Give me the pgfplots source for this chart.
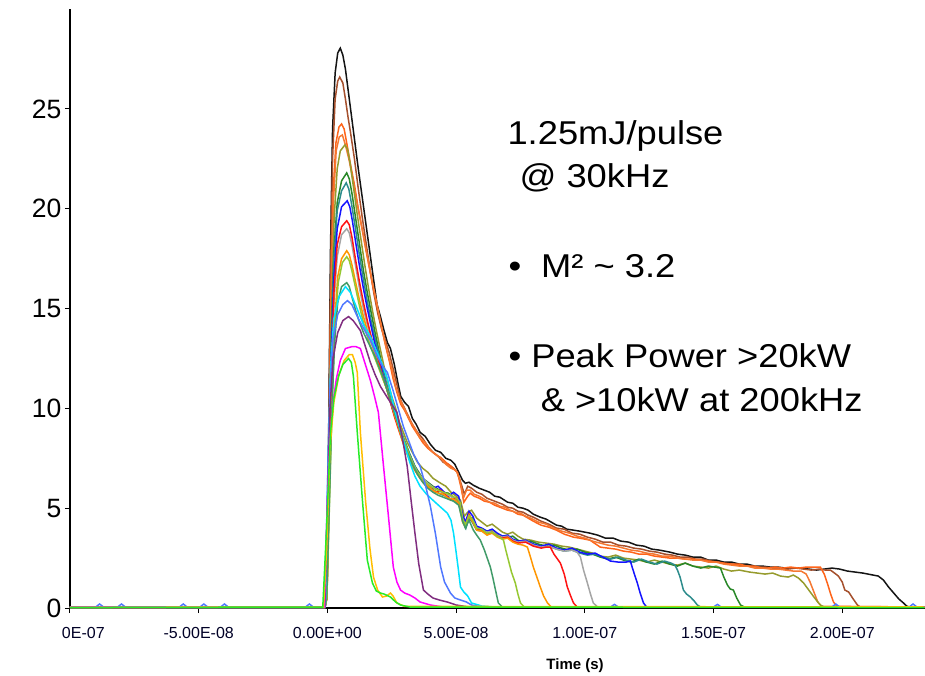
\documentclass[border=0pt]{standalone}
\usepackage{fontspec}
\setmainfont{Liberation Sans}
\newfontfamily\annfont[FakeStretch=1.1]{Liberation Sans}
\usepackage{pgfplots}
\pgfplotsset{compat=1.18}
\definecolor{cBlack}{RGB}{20,20,20}
\definecolor{cBrown}{RGB}{165,80,45}
\definecolor{cOrA}{RGB}{255,100,25}
\definecolor{cOrB}{RGB}{245,120,50}
\definecolor{cOlive}{RGB}{150,155,45}
\definecolor{cGreen}{RGB}{40,135,40}
\definecolor{cTeal}{RGB}{45,140,140}
\definecolor{cBlue}{RGB}{20,20,255}
\definecolor{cGray}{RGB}{165,165,165}
\definecolor{cRed}{RGB}{255,20,20}
\definecolor{cOrange}{RGB}{255,150,0}
\definecolor{cYG}{RGB}{150,200,50}
\definecolor{cSea}{RGB}{65,155,105}
\definecolor{cCyan}{RGB}{0,225,255}
\definecolor{cRoyal}{RGB}{80,120,255}
\definecolor{cPurple}{RGB}{128,45,128}
\definecolor{cMag}{RGB}{255,0,255}
\definecolor{cGold}{RGB}{255,190,0}
\definecolor{cLime}{RGB}{40,235,40}
\begin{document}
\begin{tikzpicture}
\useasboundingbox (-70pt,-68pt) rectangle (855pt,608pt);
\begin{axis}[
  at={(0,0)}, anchor=south west,
  scale only axis, width=854.6pt, height=598.8pt,
  xmin=-100, xmax=232, ymin=0, ymax=30,
  axis lines=left, axis line style={-, line width=2pt, black},
  xtick={-100,-50,0,50,100,150,200},
  xticklabels={{\makebox[0pt][l]{\hspace*{-8pt}0E-07}},-5.00E-08,0.00E+00,5.00E-08,1.00E-07,1.50E-07,2.00E-07},
  ytick={0,5,10,15,20,25},
  xtick pos=left, ytick pos=left,
  tick align=outside, major tick length=5pt,
  tick style={black, line width=1pt},
  xticklabel style={font=\fontsize{16}{18}\selectfont, text=black!85!blue, yshift=-11pt},
  yticklabel style={font=\fontsize{26.5}{30}\selectfont},
  /pgf/number format/assume math mode=true,
  xlabel={Time (s)},
  xlabel style={at={(axis description cs:0.591,-0.1035)}, anchor=base, font=\bfseries\fontsize{15}{17}\selectfont},
  every axis plot/.append style={line width=1.5pt, mark=none},
]
% black
\addplot[cBlack] coordinates {(-100,0.03) (-1,0.03) (-0.3,0.5) (0.5,9) (1.2,18) (2,24) (3,26.8) (4,27.8) (5,28.05) (6,27.7) (7,27.0) (8,26) (9,25) (10.5,23.5) (12,22) (13.5,20.6) (15,19.2) (16.5,17.8) (18,16.4) (19.3,15.2) (20.6,14.6) (22,13.9) (23.3,13.3) (24.5,13.0) (26,12.2) (27.5,11.2) (28.5,10.6) (30,10.3) (31.5,10.1) (33,9.5) (34.5,9.2) (36,8.8) (38,8.6) (40,8.2) (42,7.9) (44,7.8) (46,7.5) (48,7.4) (49.5,7.2) (51,6.8) (52.5,6.4) (53.6,6.25) (55,6.3) (56.7,6.15) (59,6.0) (61,5.9) (63,5.8) (65,5.6) (67,5.55) (70,5.3) (72,5.25) (74,5.05) (76,5.0) (78,4.9) (80,4.7) (82.7,4.55) (85,4.45) (87,4.3) (89,4.15) (91,4.1) (93,3.95) (95.6,3.9) (98,3.85) (100,3.8) (102,3.75) (105,3.65) (108,3.5) (111,3.5) (114,3.35) (117,3.3) (120,3.15) (123,3.1) (126,2.95) (129,2.9) (133,2.8) (136,2.7) (139,2.65) (142,2.55) (145,2.55) (148,2.4) (151,2.4) (154,2.3) (157,2.3) (160,2.2) (163,2.2) (166,2.1) (169,2.1) (172,2.05) (175,2.05) (178,2.0) (181,2.0) (184,2.0) (187,1.95) (190,1.9) (193,1.95) (196,2.0) (199,1.95) (202,1.85) (205,1.8) (208,1.75) (212,1.65) (214,1.6) (216,1.4) (218,1.05) (220,0.75) (222,0.45) (223.8,0.25) (225,0.1) (226,0.05) (232,0.05)};
% brown
\addplot[cBrown] coordinates {(-100,0.03) (-1,0.03) (-0.3,0.5) (0.5,8.5) (1.2,16.5) (2,22.5) (3,25.5) (4,26.4) (4.8,26.6) (6,26.3) (7,25.5) (8,24.6) (9,23.8) (10.5,22.5) (12,21) (13.5,19.6) (15,18.3) (16.5,17.0) (18,15.8) (19.5,14.8) (21,14.0) (22.5,13.4) (24,12.8) (25.5,12.0) (27,11.2) (28.5,10.4) (30,10.0) (31.5,9.6) (33,9.2) (35,8.8) (37,8.5) (39,8.1) (41,7.8) (43,7.6) (45,7.3) (47,7.2) (49,7.0) (50.5,6.8) (52,6.2) (53.2,5.7) (54.5,6.1) (56,6.0) (58,5.8) (60,5.7) (62,5.5) (64,5.4) (66,5.3) (68,5.2) (70,5.05) (72,5.0) (74,4.85) (76,4.8) (78,4.65) (80,4.55) (83,4.35) (86,4.2) (89,4.0) (92,3.95) (95,3.75) (98,3.7) (101,3.55) (104,3.45) (107,3.3) (110,3.3) (113,3.15) (116,3.1) (119,3.0) (122,2.95) (125,2.85) (128,2.8) (131,2.7) (134,2.65) (137,2.55) (140,2.55) (143,2.45) (146,2.45) (149,2.35) (152,2.3) (155,2.2) (158,2.2) (161,2.1) (164,2.1) (167,2.05) (170,2.05) (173,2.0) (176,1.95) (179,1.95) (182,2.0) (185,1.95) (188,1.9) (191,1.95) (193.5,1.9) (195.4,1.9) (197,1.75) (198.5,1.6) (200,1.3) (201,0.9) (202.5,0.8) (204,0.5) (205.9,0.15) (207,0.05) (232,0.05)};
% orange A
\addplot[cOrA] coordinates {(-100,0.03) (-1,0.03) (-0.3,0.5) (0.6,8) (1.4,16) (2.3,21) (3.3,23.3) (4.5,24.1) (5.5,24.25) (6.5,24.0) (7.5,23.3) (9,22.2) (10.5,21.2) (12,20.0) (13.5,19.0) (15,17.9) (16.5,16.9) (18,15.9) (19.5,15.0) (21,14.1) (22.5,13.2) (24,12.4) (25.5,11.5) (27,10.8) (28.5,10.2) (30,9.9) (31.5,9.5) (33,9.1) (35,8.7) (37,8.3) (39,8.0) (41,7.8) (43,7.6) (44,7.55) (46,7.3) (48,7.1) (50.5,6.8) (52,6.0) (53,5.3) (54.5,5.6) (55.5,5.75) (57,5.6) (59,5.5) (61,5.35) (63,5.3) (65,5.15) (67,5.05) (70,4.9) (72,4.85) (74,4.7) (76,4.65) (78,4.5) (80,4.35) (83,4.15) (86,4.05) (89,3.9) (92,3.7) (95.6,3.55) (98,3.5) (102,3.4) (106,3.05) (109,3.0) (112,2.95) (115,2.85) (118,2.8) (121,2.7) (124,2.7) (127,2.6) (130,2.55) (133,2.5) (136,2.5) (139,2.45) (142,2.45) (145,2.4) (148,2.35) (151,2.3) (154,2.25) (157,2.2) (160,2.2) (163,2.1) (166,2.1) (169,2.0) (171,2.0) (174,2.05) (177,2.0) (180,2.05) (183,2.0) (186,2.05) (189,2.05) (191.5,2.05) (193,1.7) (194.2,1.25) (195.5,0.7) (196.6,0.3) (198,0.08) (232,0.05)};
% orange B
\addplot[cOrB] coordinates {(-100,0.03) (-1,0.03) (-0.2,0.5) (0.7,7.5) (1.5,15) (2.4,20.5) (3.4,22.9) (4.6,23.6) (5.8,23.7) (7,23.2) (8.5,22.4) (10,21.4) (11.5,20.3) (13,19.3) (14.5,18.3) (16,17.3) (17.5,16.3) (19,15.4) (20.5,14.4) (22,13.5) (23.5,12.7) (25,12.0) (26.5,11.1) (28,10.5) (29.5,10.1) (31,9.7) (32.5,9.3) (34,9.0) (36,8.5) (38,8.3) (40,7.9) (42,7.7) (44,7.5) (46,7.2) (48,7.0) (50,6.9) (51.5,6.4) (52.8,5.5) (54,5.9) (55.5,5.9) (57,5.7) (59,5.6) (61,5.45) (63,5.3) (65,5.25) (67,5.1) (69,5.05) (71,4.9) (73,4.8) (75,4.75) (77,4.6) (79,4.5) (82,4.3) (85,4.2) (88,4.0) (91,3.85) (94,3.75) (97,3.6) (100,3.5) (103,3.35) (106,3.25) (109,3.15) (112,3.1) (115,3.0) (118,2.9) (121,2.85) (124,2.75) (127,2.7) (130,2.6) (133,2.6) (136,2.5) (139,2.45) (142,2.4) (145,2.4) (148,2.3) (151,2.3) (154,2.2) (157,2.15) (160,2.1) (163,2.1) (166,2.0) (169,2.0) (172,1.95) (175,1.95) (178,1.9) (181,1.85) (184,1.85) (186,1.7) (187.5,1.3) (189,0.8) (190.5,0.3) (192,0.08) (232,0.05)};
% olive
\addplot[cOlive] coordinates {(-100,0.03) (-1,0.03) (-0.2,0.5) (0.7,7.5) (1.6,14.5) (2.6,19.5) (3.8,22) (5,22.9) (6.8,23.2) (7.8,23.0) (8.8,22.3) (10,21.2) (11.5,19.8) (13,18.5) (14.5,17.2) (16,16.0) (17.5,14.9) (19,13.9) (20.5,13.0) (22,12.1) (23.5,11.3) (25,10.6) (26.5,10.0) (28,9.3) (29.5,8.8) (31,8.3) (33,7.8) (35,7.3) (37,7.0) (39,6.8) (41,6.5) (44,6.25) (46,6.1) (48,5.8) (50,5.6) (51.7,5.4) (53.2,4.6) (54.5,4.8) (56,4.9) (58,4.5) (60,4.3) (62,4.1) (64,4.2) (66,4.0) (68,3.8) (70,3.7) (72,3.8) (74,3.6) (76,3.45) (79,3.4) (82,3.3) (85,3.25) (88,3.2) (91,3.1) (94,3.05) (97,2.95) (100,2.85) (103,2.75) (106,2.6) (109,2.55) (112,2.65) (115,2.5) (118,2.45) (121,2.4) (124,2.3) (127,2.4) (130,2.3) (133,2.2) (136,2.15) (139,2.25) (142,2.1) (145,2.05) (148,2.0) (151,2.1) (154,1.95) (157,1.85) (160,1.9) (164,1.8) (167,1.75) (170,1.7) (173,1.75) (176,1.6) (179,1.55) (181,1.65) (183,1.5) (185,1.25) (187,0.9) (189,0.55) (190.5,0.3) (191.5,0.15) (193,0.05) (232,0.05)};
% green
\addplot[cGreen] coordinates {(-100,0.03) (-1,0.03) (-0.3,0.5) (0.6,7) (1.5,13.5) (2.5,17.8) (3.8,20.3) (5.5,21.4) (7.5,21.8) (8.5,21.5) (9.5,20.8) (11,19.5) (12.5,18.2) (14,16.9) (15.5,15.8) (17,14.8) (18.5,13.8) (20,12.9) (21.5,12.0) (23,11.2) (24.5,10.5) (26,9.9) (27.5,9.3) (29,8.7) (30.5,8.2) (32,7.7) (34,7.1) (36,6.7) (37,6.5) (39,6.3) (41,6.1) (43,5.95) (45,5.8) (47,5.75) (49,5.55) (51,5.35) (52.5,4.5) (53.6,4.1) (55,4.55) (56.5,4.5) (58,4.0) (60,3.95) (62,3.85) (64,3.9) (66,3.7) (68,3.6) (70,3.55) (72,3.6) (74,3.4) (76,3.3) (79,3.35) (82,3.2) (85,3.1) (88,3.15) (91,3.0) (94,2.9) (97,2.95) (100,2.8) (103,2.7) (106,2.55) (109,2.45) (112,2.55) (115,2.4) (118,2.3) (121,2.45) (124,2.3) (127,2.2) (130,2.35) (133,2.2) (136,2.1) (139,2.25) (142,2.1) (145,2.0) (148,2.1) (150.5,2.05) (152.7,2.0) (154,1.55) (155.4,1.15) (156.5,0.95) (157.7,0.9) (159,0.5) (160.5,0.15) (162,0.05) (232,0.05)};
% teal
\addplot[cTeal] coordinates {(-100,0.03) (-1,0.03) (-0.3,0.5) (0.6,7) (1.5,13) (2.5,17.5) (3.8,19.9) (5.5,20.9) (7.3,21.3) (8.3,21.0) (9.3,20.3) (10.8,19.1) (12.3,17.8) (13.8,16.6) (15.3,15.5) (16.8,14.5) (18.3,13.6) (19.8,12.8) (21.3,12.0) (22.8,11.3) (24.3,10.6) (25.8,9.9) (27.5,9.3) (29,8.7) (30.5,8.2) (32,7.7) (34,7.1) (36,6.6) (38,6.3) (40,6.0) (42,5.85) (44,5.7) (46,5.6) (48,5.45) (50,5.3) (51.7,5.1) (52.8,4.3) (53.8,4.0) (55,4.5) (56.3,4.3) (58,3.9) (60,3.85) (62,3.75) (64,3.8) (66,3.6) (68,3.5) (70,3.55) (72,3.4) (74,3.3) (77,3.35) (80,3.2) (83,3.05) (86,3.1) (89,2.95) (92,2.85) (95,2.9) (98,2.75) (101,2.65) (104,2.7) (107,2.55) (110,2.45) (113,2.55) (116,2.4) (119,2.3) (122,2.45) (125,2.3) (128,2.2) (131,2.35) (133.5,2.25) (135,2.15) (136,1.9) (137,1.55) (138.3,0.9) (139.5,0.7) (141,0.55) (142.5,0.35) (143.7,0.15) (145,0.05) (232,0.05)};
% blue
\addplot[cBlue] coordinates {(-100,0.03) (-1,0.03) (-0.3,0.5) (0.6,6.5) (1.5,12.5) (2.5,16.5) (3.8,19.0) (5.5,20.1) (7.7,20.4) (8.7,20.1) (9.7,19.4) (11,18.3) (12.5,17.1) (14,16.0) (15.5,15.0) (17,14.1) (18.5,13.2) (20,12.5) (21.5,11.7) (23.3,10.9) (25,10.1) (27,9.3) (29.5,8.4) (31.5,7.7) (33.4,7.1) (35,6.8) (37,6.4) (39,6.2) (41,6.0) (43,6.1) (45,5.85) (47,5.6) (49,5.8) (51,5.6) (52.5,4.7) (53.6,4.3) (55,4.85) (56.5,4.6) (58,4.1) (60,4.0) (62,3.85) (64,3.95) (66,3.75) (68,3.6) (70,3.65) (72,3.45) (74,3.35) (77,3.4) (80,3.2) (83,3.1) (86,3.2) (89,3.0) (92,2.9) (95,3.0) (98,2.8) (101,2.7) (104,2.75) (107,2.55) (110,2.35) (113,2.3) (116,2.3) (117.7,2.35) (118.5,2.0) (119.5,1.6) (120.4,1.25) (121.5,0.75) (122.8,0.25) (124,0.05) (232,0.05)};
% gray
\addplot[cGray] coordinates {(-100,0.03) (-1,0.03) (-0.2,0.5) (0.7,6) (1.6,11.5) (2.6,15.4) (3.8,17.6) (5.5,18.7) (7.5,19.0) (8.5,18.8) (9.5,18.2) (11,17.1) (12.5,16.0) (14,15.0) (15.5,14.2) (17,13.5) (18.5,12.8) (20,12.2) (21.5,11.6) (23,11.0) (24.5,10.3) (26,9.7) (28,8.9) (30,8.2) (32,7.6) (33,7.3) (35,6.8) (37,6.5) (39,6.25) (41,6.05) (43,5.9) (45,5.75) (47,5.65) (49,5.5) (51,5.3) (52.5,4.4) (53.6,4.2) (55,4.6) (56.5,4.4) (58,4.0) (60,3.9) (62,3.8) (64,3.85) (66,3.65) (68,3.55) (70,3.6) (72,3.4) (74,3.3) (77,3.35) (80,3.15) (83,3.05) (86,3.1) (89,2.95) (92,2.85) (95,2.9) (97,2.8) (98.3,2.55) (99.5,1.9) (101,1.25) (102.2,0.7) (103.3,0.25) (105,0.05) (232,0.05)};
% red
\addplot[cRed] coordinates {(-100,0.03) (-1,0.03) (-0.2,0.5) (0.7,6.2) (1.6,12) (2.6,16) (3.8,18.2) (5.5,19.1) (7.5,19.4) (8.5,19.2) (9.5,18.6) (11,17.4) (12.5,16.3) (14,15.3) (15.5,14.4) (17,13.6) (18.5,12.9) (20,12.3) (21.5,11.6) (23,11.0) (24.5,10.3) (26,9.6) (28,8.8) (30,8.1) (32,7.4) (34,6.9) (36,6.5) (38,6.2) (40,6.0) (42,5.8) (44,5.9) (46,5.65) (48,5.4) (50,5.5) (51.5,5.2) (52.5,4.4) (53.6,4.1) (55,4.7) (56.5,4.35) (58,3.95) (60,3.9) (62,3.7) (64,3.8) (66,3.6) (68,3.5) (70,3.55) (72,3.35) (74,3.25) (77,3.3) (80,3.1) (83,3.0) (85,3.05) (86.6,3.05) (88,2.7) (90.5,2.25) (92,1.7) (93.2,1.05) (94.5,0.6) (95.6,0.25) (97,0.05) (232,0.05)};
% orange
\addplot[cOrange] coordinates {(-100,0.03) (-1,0.03) (-0.2,0.5) (0.7,5.5) (1.7,10.5) (2.8,14.3) (4,16.6) (5.5,17.5) (7.5,17.9) (8.5,17.7) (9.5,17.2) (11,16.3) (12.5,15.4) (14,14.6) (15.5,13.9) (17,13.3) (18.5,12.7) (20,12.1) (21.5,11.5) (23,11.0) (24.5,10.4) (26,9.7) (27.5,9.1) (29,8.4) (31,7.7) (33,7.1) (35,6.7) (37,6.35) (39,6.1) (41,5.9) (43,5.75) (45,5.7) (47,5.5) (49,5.45) (51,5.25) (52.5,4.3) (53.6,4.05) (55,4.6) (56.5,4.3) (58,3.9) (60,3.85) (62,3.65) (64,3.75) (66,3.55) (68,3.45) (70,3.5) (72,3.3) (74,3.2) (76,3.15) (77.7,3.05) (79,2.5) (80,2.05) (81.5,1.5) (82.7,1.05) (84,0.6) (85.5,0.25) (87,0.05) (232,0.05)};
% yellow-green
\addplot[cYG] coordinates {(-100,0.03) (-1,0.03) (-0.2,0.5) (0.8,5.2) (1.8,10.2) (2.9,14) (4.2,16.3) (5.8,17.3) (7.5,17.6) (8.5,17.4) (9.5,16.9) (11,16.0) (12.5,15.1) (14,14.3) (15.5,13.6) (17,13.0) (18.5,12.5) (20,12.0) (21.5,11.5) (23,11.0) (24.5,10.4) (26,9.8) (28,9.0) (30,8.3) (32,7.6) (34,7.0) (36,6.6) (38,6.3) (40,6.1) (42,5.95) (44,5.85) (46,5.75) (48,5.65) (50,5.5) (51.5,5.3) (52.5,4.5) (53.6,4.15) (55,4.65) (56.5,4.4) (58,4.0) (60,3.95) (62,3.75) (64,3.8) (66,3.6) (67.5,3.5) (68.4,3.4) (69.3,2.9) (70.3,2.4) (71.5,1.8) (73,1.25) (74,0.7) (75,0.25) (76.5,0.05) (232,0.05)};
% sea green
\addplot[cSea] coordinates {(-100,0.03) (-1,0.03) (-0.3,0.5) (0.7,5) (1.7,9.8) (2.8,13.3) (4,15.3) (5.5,16.1) (7.5,16.3) (8.5,16.1) (9.5,15.6) (11,14.9) (12.5,14.3) (14,13.8) (15.5,13.4) (17,13.0) (18.5,12.6) (20,12.1) (21.5,11.6) (23,11.0) (24.5,10.4) (26,9.8) (27.5,9.2) (29,8.5) (31,7.8) (33,7.2) (35,6.7) (37,6.3) (39,6.0) (41,5.8) (43,5.65) (45,5.55) (47,5.45) (49,5.35) (51,5.15) (52.5,4.35) (53.6,4.0) (55,4.4) (56.7,3.9) (58,3.65) (59.4,3.4) (61,2.9) (63.3,2.05) (64.3,1.5) (65.3,0.9) (66.4,0.25) (68,0.05) (232,0.05)};
% cyan
\addplot[cCyan] coordinates {(-100,0.03) (-1,0.03) (-0.8,0.05) (0.2,7) (1.2,12) (2.5,14.5) (4.5,15.6) (7,16.1) (9,15.8) (11.5,15) (14,14.2) (16.7,13.6) (19,12.9) (21,12.3) (23.3,11.5) (26,10) (29,8.6) (32,7.3) (34,6.6) (36,6.1) (38.5,5.7) (41,5.4) (44,5.05) (46.6,4.75) (48,4.4) (49,3.75) (50,2.8) (50.8,2.0) (51.7,1.05) (53,0.8) (54.5,0.6) (56,0.25) (60,0.1) (65,0.05) (232,0.05)};
% royal blue
\addplot[cRoyal] coordinates {(-100,0.05) (-90,0.05) (-88.5,0.2) (-87,0.05) (-81.5,0.05) (-80,0.2) (-78.5,0.05) (-57.5,0.05) (-56,0.2) (-54.5,0.05) (-49.5,0.05) (-48,0.2) (-46.5,0.05) (-41.5,0.05) (-40,0.2) (-38.5,0.05) (-8.5,0.05) (-7,0.2) (-5.5,0.05) (-1,0.05) (0,6) (1,11) (2.2,13.5) (4,14.7) (6,15.2) (7.8,15.4) (9.5,15.2) (12,14.5) (14.5,13.9) (16.7,13.4) (19,12.7) (21,12.2) (23.3,11.8) (25.5,10.9) (27.5,10) (29.5,9.1) (31.5,8.4) (33.5,7.7) (36,7.1) (38,6.2) (40,5.1) (42,3.7) (44,2.05) (45.5,1.3) (47.8,0.75) (49.5,0.5) (51.7,0.4) (54,0.3) (56,0.15) (60,0.05) (110,0.05) (111.5,0.18) (113,0.05) (150,0.05) (151.5,0.18) (153,0.05) (196,0.05) (197.5,0.2) (199,0.05) (226,0.05) (227.5,0.2) (229,0.05) (232,0.05)};
% purple
\addplot[cPurple] coordinates {(-100,0.03) (-1,0.03) (0,5) (1,10) (2.2,12.5) (4,13.8) (6,14.4) (8.2,14.6) (10,14.4) (12.8,13.9) (14.5,13.2) (16.7,12.3) (18.5,11.7) (20.6,11.1) (23,10.6) (25,10.2) (27,9.8) (29,8.6) (31,7.1) (32.5,5.4) (34,3.75) (35.5,2.2) (37.3,0.9) (39,0.7) (41,0.5) (43.5,0.4) (46.6,0.3) (50,0.15) (55,0.05) (232,0.05)};
% magenta
\addplot[cMag] coordinates {(-100,0.03) (-1.2,0.05) (0,5.4) (1,8.5) (2.3,10.4) (3.5,11.5) (5,12.4) (7,13) (9.7,13.1) (11,13.1) (12.8,13) (14.5,12.3) (16.7,11.4) (18.3,10.6) (19.8,9.8) (21.8,7.1) (23.7,4.6) (25.6,2.05) (27,1.3) (28.4,0.9) (30,0.75) (32,0.65) (34,0.5) (36,0.3) (40,0.15) (45,0.05) (232,0.05)};
% gold
\addplot[cGold] coordinates {(-100,0.03) (-1.5,0.05) (-0.3,3) (1,8) (2.5,10.3) (4.5,11.7) (6.5,12.4) (8.5,12.7) (9.7,12.7) (10.8,12.3) (11.6,11.8) (12.8,8.8) (14.8,5.4) (16.5,3) (17.9,1.55) (19.5,0.9) (21.4,0.55) (23,0.6) (24.5,0.75) (25.5,0.6) (27,0.25) (30,0.08) (232,0.05)};
% lime
\addplot[cLime] coordinates {(-100,0.02) (-1.8,0.05) (-0.4,3.8) (1.2,8.8) (2.5,10.5) (4.3,11.6) (6,12.2) (8.2,12.5) (9.3,12.3) (10.1,11.6) (11.6,8.8) (13.6,5.4) (15.5,2.4) (17.5,1.25) (19,0.85) (20.6,0.75) (22,0.7) (24.5,0.55) (26.5,0.3) (28.4,0.15) (32,0.05) (232,0.02)};
% annotations
\node[anchor=base west, inner sep=0pt, font=\annfont\fontsize{33}{37}\selectfont] at (axis cs:69.9,23.2) {1.25mJ/pulse};
\node[anchor=base west, inner sep=0pt, font=\annfont\fontsize{33}{37}\selectfont] at (axis cs:74.6,21.09) {@ 30kHz};
\node[anchor=base west, inner sep=0pt, font=\annfont\fontsize{33}{37}\selectfont] at (axis cs:70.3,16.58) {•\hspace*{20pt}M²~{\char"7E}~3.2};
\node[anchor=base west, inner sep=0pt, font=\annfont\fontsize{33}{37}\selectfont] at (axis cs:70.3,12.07) {• Peak Power >20kW};
\node[anchor=base west, inner sep=0pt, font=\annfont\fontsize{33}{37}\selectfont] at (axis cs:82.8,9.82) {\& >10kW at 200kHz};
\end{axis}
\end{tikzpicture}
\end{document}
